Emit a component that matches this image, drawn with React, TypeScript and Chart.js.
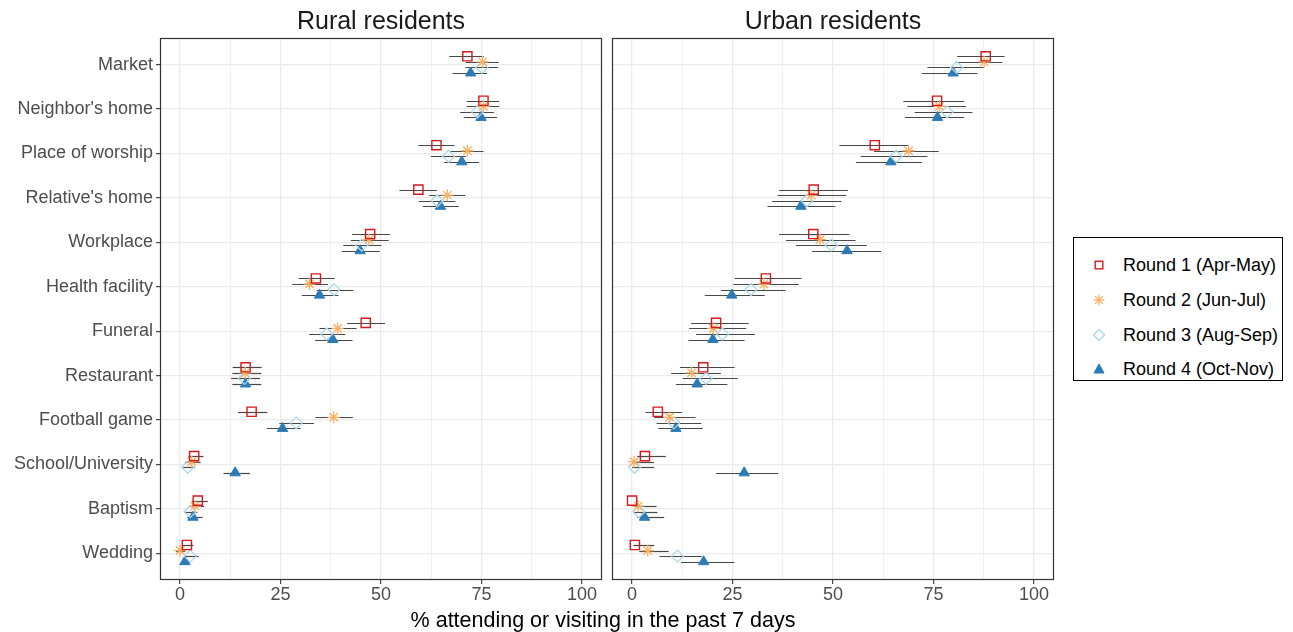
import React, { useEffect, useRef } from 'react';
import { Chart, registerables } from 'chart.js';

Chart.register(...registerables);

const FONT = "'Liberation Sans', Arial, Helvetica, sans-serif";

const categories = [
  'Market',
  "Neighbor's home",
  'Place of worship',
  "Relative's home",
  'Workplace',
  'Health facility',
  'Funeral',
  'Restaurant',
  'Football game',
  'School/University',
  'Baptism',
  'Wedding',
];

const roundLabels = ['Round 1 (Apr-May)', 'Round 2 (Jun-Jul)', 'Round 3 (Aug-Sep)', 'Round 4 (Oct-Nov)'];
const roundColors = ['#D7191C', '#FDAE61', '#ABD9E9', '#2C7BB6'];
const panelTitles = ['Rural residents', 'Urban residents'];
const xAxisTitle = '% attending or visiting in the past 7 days';
const xTickLabels = [0, 25, 50, 75, 100];
const xGridValues = [0, 12.5, 25, 37.5, 50, 62.5, 75, 87.5, 100];

// Rural residents
const ruralR1 = [71.5, 75.5, 63.8, 59.3, 47.3, 33.8, 46.2, 16.3, 17.8, 3.5, 4.4, 1.7];
const ruralR1Lo = [67.0, 71.3, 59.3, 54.6, 42.8, 29.5, 41.6, 13.1, 14.4, 2.1, 2.9, 0.7];
const ruralR1Hi = [75.6, 79.4, 68.3, 63.9, 52.2, 38.5, 51.0, 20.3, 21.7, 5.8, 6.9, 3.3];
const ruralR2 = [75.3, 75.5, 71.5, 66.5, 47.0, 32.2, 39.2, 16.2, 38.2, 2.9, 3.7, 0.0];
const ruralR2Lo = [71.1, 71.3, 67.0, 62.0, 42.5, 27.9, 34.7, 13.0, 33.7, 1.2, 2.3, -1.0];
const ruralR2Hi = [79.3, 79.4, 75.5, 71.0, 51.9, 36.8, 43.9, 20.2, 43.0, 5.1, 6.0, 1.3];
const ruralR3 = [75.1, 74.0, 66.8, 64.0, 45.2, 38.3, 36.5, 16.0, 28.9, 1.9, 2.5, 2.5];
const ruralR3Lo = [71.0, 69.7, 62.4, 59.4, 40.6, 34.0, 32.1, 12.7, 24.7, 0.8, 1.2, 1.0];
const ruralR3Hi = [79.2, 78.1, 71.1, 68.5, 50.1, 43.1, 41.1, 19.9, 33.3, 3.7, 4.3, 4.6];
const ruralR4 = [72.3, 74.9, 70.1, 64.8, 44.8, 34.7, 38.0, 16.3, 25.5, 13.7, 3.2, 1.2];
const ruralR4Lo = [67.8, 70.6, 65.7, 60.4, 40.2, 30.3, 33.6, 13.0, 21.6, 10.8, 1.8, 0.2];
const ruralR4Hi = [76.4, 78.9, 74.4, 69.3, 49.7, 39.4, 42.9, 20.2, 30.0, 17.4, 5.6, 2.3];

// Urban residents
const urbanR1 = [88.0, 75.9, 60.4, 45.2, 45.1, 33.3, 20.9, 17.7, 6.4, 3.2, 0.0, 0.7];
const urbanR1Lo = [80.9, 67.5, 51.6, 36.6, 36.6, 25.5, 14.7, 11.9, 3.3, 1.3, 0.0, 0.3];
const urbanR1Hi = [92.7, 82.6, 68.7, 53.7, 54.1, 42.2, 29.0, 25.5, 12.4, 8.4, 0.0, 5.5];
const urbanR2 = [87.6, 76.5, 68.8, 44.6, 46.8, 32.8, 20.2, 14.8, 9.3, 0.5, 1.5, 3.9];
const urbanR2Lo = [80.6, 68.5, 60.2, 36.2, 38.3, 25.2, 14.2, 9.7, 5.5, 0.0, 0.5, 1.8];
const urbanR2Hi = [92.2, 83.1, 76.3, 53.3, 55.6, 41.5, 28.4, 22.1, 15.8, 5.4, 6.1, 9.1];
const urbanR3 = [80.8, 78.4, 65.7, 43.5, 49.6, 29.6, 22.5, 18.4, 10.4, 0.6, 1.7, 11.3];
const urbanR3Lo = [73.5, 70.3, 56.9, 34.8, 40.8, 22.1, 15.9, 12.6, 6.1, 0.0, 0.3, 6.8];
const urbanR3Hi = [87.5, 84.7, 73.5, 52.1, 58.4, 38.2, 30.6, 26.3, 17.2, 5.5, 6.3, 17.3];
const urbanR4 = [79.9, 76.0, 64.4, 42.0, 53.5, 24.8, 20.1, 16.2, 10.9, 27.9, 3.1, 17.8];
const urbanR4Lo = [72.1, 67.9, 55.7, 33.7, 44.8, 18.1, 14.0, 10.9, 6.5, 20.9, 1.3, 12.2];
const urbanR4Hi = [86.0, 82.6, 72.2, 50.6, 62.0, 33.0, 28.0, 23.7, 17.6, 36.4, 8.0, 25.5];

const ruralSeries = [
  [ruralR1, ruralR1Lo, ruralR1Hi],
  [ruralR2, ruralR2Lo, ruralR2Hi],
  [ruralR3, ruralR3Lo, ruralR3Hi],
  [ruralR4, ruralR4Lo, ruralR4Hi],
];
const urbanSeries = [
  [urbanR1, urbanR1Lo, urbanR1Hi],
  [urbanR2, urbanR2Lo, urbanR2Hi],
  [urbanR3, urbanR3Lo, urbanR3Hi],
  [urbanR4, urbanR4Lo, urbanR4Hi],
];

const dodge = [-0.1875, -0.0625, 0.0625, 0.1875];

const pointStyles = ['rect', 'star', 'rectRot', 'triangle'];
const pointRadii = [6.5, 6, 6, 6];
const pointFill = ['rgba(0,0,0,0)', 'rgba(0,0,0,0)', 'rgba(0,0,0,0)', '#2C7BB6'];
const pointBorderW = [1.4, 1.3, 1.3, 1];

const errorBarPlugin = {
  id: 'errorBars',
  beforeDatasetsDraw(chart: any) {
    const { ctx, chartArea } = chart;
    const xs = chart.scales.x;
    const ys = chart.scales.y;
    ctx.save();
    ctx.beginPath();
    ctx.rect(chartArea.left, chartArea.top, chartArea.right - chartArea.left, chartArea.bottom - chartArea.top);
    ctx.clip();
    ctx.strokeStyle = 'rgba(40,40,40,0.85)';
    ctx.lineWidth = 1.2;
    chart.data.datasets.forEach((ds: any) => {
      ds.data.forEach((p: any) => {
        if (p.hi <= p.lo) return;
        const y = Math.round(ys.getPixelForValue(p.y)) + 0.5;
        ctx.beginPath();
        ctx.moveTo(xs.getPixelForValue(p.lo), y);
        ctx.lineTo(xs.getPixelForValue(p.hi), y);
        ctx.stroke();
      });
    });
    ctx.restore();
  },
};

const borderPlugin = {
  id: 'panelBorder',
  afterDraw(chart: any) {
    const { ctx, chartArea } = chart;
    ctx.save();
    ctx.strokeStyle = '#333333';
    ctx.lineWidth = 1.2;
    ctx.strokeRect(chartArea.left + 0.5, chartArea.top + 0.5, chartArea.right - chartArea.left - 1, chartArea.bottom - chartArea.top - 1);
    ctx.restore();
  },
};

function buildDatasets(series: number[][][]) {
  return series.map((s, r) => ({
    label: roundLabels[r],
    data: categories.map((_, i) => ({ x: s[0][i], y: i + dodge[r], lo: s[1][i], hi: s[2][i] })),
    pointStyle: pointStyles[r],
    pointRadius: pointRadii[r],
    pointHoverRadius: pointRadii[r],
    pointBackgroundColor: pointFill[r],
    pointBorderColor: roundColors[r],
    pointBorderWidth: pointBorderW[r],
    showLine: false,
  }));
}

function zeroPadding(scale: any) {
  scale.paddingLeft = 0;
  scale.paddingRight = 0;
  scale.paddingTop = 0;
  scale.paddingBottom = 0;
}

function makeConfig(series: number[][][], showYLabels: boolean, padRight: number): any {
  return {
    type: 'scatter',
    data: { datasets: buildDatasets(series) },
    plugins: [errorBarPlugin, borderPlugin],
    options: {
      responsive: false,
      animation: false,
      events: [],
      layout: { autoPadding: false, padding: { top: 38, right: padRight, left: 0, bottom: 0 } },
      plugins: { legend: { display: false }, tooltip: { enabled: false }, title: { display: false } },
      scales: {
        x: {
          type: 'linear',
          min: -5,
          max: 105,
          afterBuildTicks: (scale: any) => {
            scale.ticks = xGridValues.map((v) => ({ value: v }));
          },
          afterFit: (scale: any) => {
            scale.height = 52;
            zeroPadding(scale);
          },
          border: { display: false },
          grid: {
            color: '#EBEBEB',
            lineWidth: (c: any) => (c.tick && xTickLabels.includes(c.tick.value) ? 1.3 : 0.7),
            tickColor: (c: any) => (c.tick && xTickLabels.includes(c.tick.value) ? '#333333' : 'rgba(0,0,0,0)'),
            tickWidth: 1.1,
            tickLength: 4,
            drawTicks: true,
          },
          ticks: {
            autoSkip: false,
            maxRotation: 0,
            padding: 0,
            color: '#4D4D4D',
            font: { family: FONT, size: 18 },
            callback: (v: any) => (xTickLabels.includes(v) ? String(v) : ''),
          },
        },
        y: {
          type: 'linear',
          min: -0.6,
          max: 11.6,
          reverse: true,
          afterBuildTicks: (scale: any) => {
            scale.ticks = categories.map((_, i) => ({ value: i }));
          },
          afterFit: (scale: any) => {
            scale.width = showYLabels ? 160 : 6;
            zeroPadding(scale);
          },
          border: { display: false },
          grid: {
            color: '#EBEBEB',
            lineWidth: 1.3,
            tickColor: '#333333',
            tickWidth: 1.1,
            tickLength: 4,
            drawTicks: showYLabels,
          },
          ticks: {
            display: showYLabels,
            autoSkip: false,
            padding: 3,
            color: '#4D4D4D',
            font: { family: FONT, size: 18 },
            callback: (v: any) => categories[v] ?? '',
          },
        },
      },
    },
  };
}

function Panel({ series, showYLabels, left, width, padRight }: any) {
  const ref = useRef<HTMLCanvasElement>(null);
  useEffect(() => {
    if (!ref.current) return;
    const chart = new Chart(ref.current, makeConfig(series, showYLabels, padRight));
    return () => chart.destroy();
  }, []);
  return (
    <canvas
      ref={ref}
      width={width}
      height={632}
      style={{ position: 'absolute', left, top: 0, width, height: 632 }}
    />
  );
}

function LegendSymbol({ index }: { index: number }) {
  const c = roundColors[index];
  if (index === 0) {
    return (
      <svg width="16" height="16" viewBox="0 0 16 16">
        <rect x="4.2" y="4.2" width="7.6" height="7.6" fill="none" stroke={c} strokeWidth="1.4" />
      </svg>
    );
  }
  if (index === 1) {
    return (
      <svg width="16" height="16" viewBox="0 0 16 16">
        <g stroke={c} strokeWidth="1.3">
          <line x1="8" y1="2.5" x2="8" y2="13.5" />
          <line x1="2.5" y1="8" x2="13.5" y2="8" />
          <line x1="4.1" y1="4.1" x2="11.9" y2="11.9" />
          <line x1="4.1" y1="11.9" x2="11.9" y2="4.1" />
        </g>
      </svg>
    );
  }
  if (index === 2) {
    return (
      <svg width="16" height="16" viewBox="0 0 16 16">
        <polygon points="8,2.5 13.5,8 8,13.5 2.5,8" fill="none" stroke={c} strokeWidth="1.3" />
      </svg>
    );
  }
  return (
    <svg width="16" height="16" viewBox="0 0 16 16">
      <polygon points="8,3 13,12 3,12" fill={c} stroke={c} strokeWidth="1" />
    </svg>
  );
}

export default function App() {
  const legendRows = [27, 62, 97, 131];
  return (
    <div
      style={{
        position: 'fixed',
        left: 0,
        top: 0,
        width: 1293,
        height: 632,
        background: '#FFFFFF',
        overflow: 'hidden',
        fontFamily: FONT,
      }}
    >
      <Panel series={ruralSeries} showYLabels={true} left={0} width={606} padRight={4} />
      <Panel series={urbanSeries} showYLabels={false} left={606} width={454} padRight={6} />
      <div style={{ position: 'absolute', left: 231, top: 4, width: 300, textAlign: 'center', fontSize: 25, lineHeight: '32px', color: '#1A1A1A' }}>
        {panelTitles[0]}
      </div>
      <div style={{ position: 'absolute', left: 683, top: 4, width: 300, textAlign: 'center', fontSize: 25, lineHeight: '32px', color: '#1A1A1A' }}>
        {panelTitles[1]}
      </div>
      <div style={{ position: 'absolute', left: 303, top: 606, width: 600, textAlign: 'center', fontSize: 21.5, lineHeight: '28px', color: '#000000' }}>
        {xAxisTitle}
      </div>
      <div
        style={{
          position: 'absolute',
          left: 1073,
          top: 237,
          width: 210,
          height: 144,
          border: '1.5px solid #000000',
          boxSizing: 'border-box',
        }}
      >
        {roundLabels.map((lab, i) => (
          <div key={lab} style={{ position: 'absolute', left: 0, top: legendRows[i] - 12, height: 24, width: 208 }}>
            <div style={{ position: 'absolute', left: 17, top: 4 }}>
              <LegendSymbol index={i} />
            </div>
            <div style={{ position: 'absolute', left: 49, top: 0, lineHeight: '24px', fontSize: 18, color: '#000000', whiteSpace: 'nowrap' }}>
              {lab}
            </div>
          </div>
        ))}
      </div>
    </div>
  );
}
